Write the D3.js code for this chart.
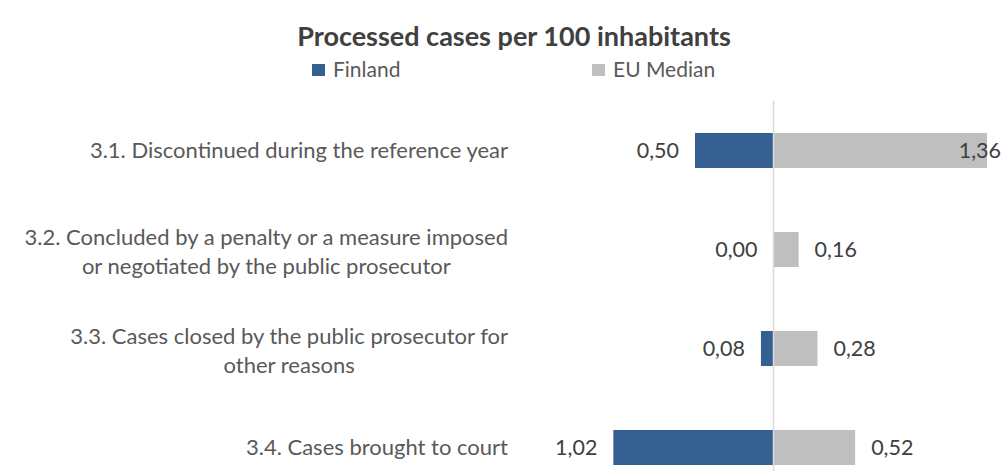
<!DOCTYPE html>
<html>
<head>
<meta charset="utf-8">
<script src="https://cdn.jsdelivr.net/npm/d3@7"></script>
<style>
  html, body { margin: 0; padding: 0; background: #ffffff; }
  svg { display: block; font-family: Lato, "Open Sans", sans-serif; }
</style>
</head>
<body>
<svg id="chart" width="1005" height="471"></svg>
<script>
// Processed cases per 100 inhabitants: Finland vs EU median
const categories = [
  "3.1. Discontinued during the reference year",
  "3.2. Concluded by a penalty or a measure imposed|or negotiated by the public prosecutor",
  "3.3. Cases closed by the public prosecutor for|other reasons",
  "3.4. Cases brought to court"
];
const finland = [0.50, 0.00, 0.08, 1.02];
const euMedian = [1.36, 0.16, 0.28, 0.52];
const seriesNames = ["Finland", "EU Median"];
const colors = ["#355f91", "#bfbfbf"];

const svg = d3.select("#chart");
const W = 1005, H = 471;

// Diverging axis: Finland to the left, EU median to the right
const x = d3.scaleLinear().domain([-1.5, 1.5]).range([538, 1009]);
const y = d3.scaleBand()
  .domain(categories)
  .range([101, 497])
  .paddingInner(0.646)
  .paddingOuter(0.323);

const fmt = v => d3.format(".2f")(v).replace(".", ",");

// Title
svg.append("text")
  .attr("x", 514).attr("y", 46)
  .attr("text-anchor", "middle")
  .attr("font-size", 27).attr("font-weight", "bold")
  .attr("fill", "#404040")
  .text("Processed cases per 100 inhabitants");

// Legend
const legendX = [312, 592];
seriesNames.forEach((name, i) => {
  const g = svg.append("g").attr("transform", `translate(${legendX[i]},64)`);
  g.append("rect").attr("width", 13).attr("height", 12).attr("fill", colors[i]);
  g.append("text").attr("x", 21).attr("y", 13)
    .attr("font-size", 21).attr("fill", "#595959").text(name);
});

const rows = categories.map((c, i) => ({ c, fi: finland[i], eu: euMedian[i] }));

// Finland bars (leftwards)
svg.append("g").selectAll("rect").data(rows).join("rect")
  .attr("x", d => x(-d.fi))
  .attr("y", d => y(d.c))
  .attr("width", d => x(0) - x(-d.fi))
  .attr("height", y.bandwidth())
  .attr("fill", colors[0]);

// EU median bars (rightwards)
svg.append("g").selectAll("rect").data(rows).join("rect")
  .attr("x", x(0))
  .attr("y", d => y(d.c))
  .attr("width", d => x(d.eu) - x(0))
  .attr("height", y.bandwidth())
  .attr("fill", colors[1]);

// Central axis line
svg.append("line")
  .attr("x1", x(0)).attr("x2", x(0))
  .attr("y1", 101).attr("y2", H)
  .attr("stroke", "#d9d9d9").attr("stroke-width", 1.5);

// Value labels
const valueSize = 21.5;
svg.append("g").selectAll("text").data(rows).join("text")
  .attr("x", d => x(-d.fi) - 16)
  .attr("y", d => y(d.c) + y.bandwidth() / 2)
  .attr("dy", "0.35em")
  .attr("text-anchor", "end")
  .attr("font-size", valueSize).attr("fill", "#404040")
  .text(d => fmt(d.fi));

svg.append("g").selectAll("text").data(rows).join("text")
  .attr("y", d => y(d.c) + y.bandwidth() / 2)
  .attr("dy", "0.35em")
  .attr("font-size", valueSize).attr("fill", "#404040")
  .text(d => fmt(d.eu))
  .each(function(d) {
    const t = d3.select(this);
    const w = this.getComputedTextLength();
    let xs = x(d.eu) + 16;
    if (xs + w > 1001) xs = 1001 - w;   // keep inside the chart edge
    t.attr("x", xs);
  });

// Category labels: block right-aligned, lines centred within the block
const labelRight = 508, labelSize = 22, lineGap = 29;
rows.forEach(d => {
  const lines = d.c.split("|");
  const g = svg.append("g");
  const cy = y(d.c) + y.bandwidth() / 2 + (lines.length > 1 ? 2 : 0);
  const texts = lines.map((ln, k) => g.append("text")
    .attr("y", cy + (k - (lines.length - 1) / 2) * lineGap)
    .attr("dy", "0.35em")
    .attr("text-anchor", "middle")
    .attr("font-size", labelSize).attr("fill", "#595959")
    .text(ln));
  const bw = d3.max(texts, t => t.node().getComputedTextLength());
  texts.forEach(t => t.attr("x", labelRight - bw / 2));
});
</script>
</body>
</html>
